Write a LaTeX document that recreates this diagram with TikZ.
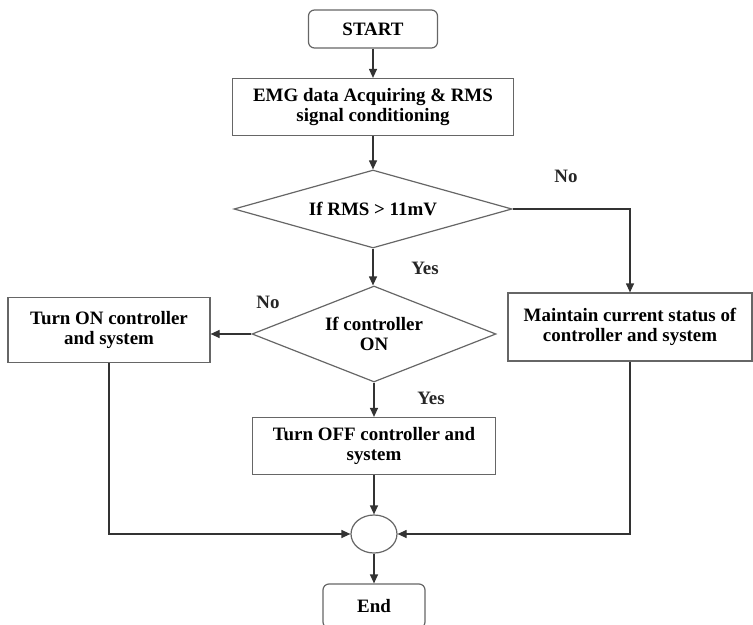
\documentclass[tikz,border=0pt]{standalone}
\usepackage{fontspec}
\setmainfont{Liberation Serif}
\usetikzlibrary{shapes.geometric, arrows.meta, positioning, calc}
\tikzset{
  flowfont/.style={font=\fontsize{19}{20}\selectfont\bfseries},
  terminal/.style={rectangle, draw=black!60, rounded corners=6pt, line width=1.2bp,
                   flowfont, align=center, inner sep=0pt},
  stepbox/.style={rectangle, draw=black!60, line width=1.2bp, flowfont,
                  align=center, inner sep=0pt},
  decision/.style={diamond, draw=black!60, line width=1.2bp, flowfont,
                   align=center, inner sep=0pt, aspect=3},
  merger/.style={ellipse, draw=black!60, line width=1.2bp, inner sep=0pt},
  arrow/.style={-{Triangle[length=9bp, width=8bp]}, draw=black!80, line width=1.2bp},
  label/.style={flowfont, text=black!85, inner sep=1pt},
}
\begin{document}
\begin{tikzpicture}[x=1bp, y=-1bp]
  \useasboundingbox (0,0) rectangle (753,625);

  \node[terminal, minimum width=129bp, minimum height=38bp] (start) at (373,29) {START};
  \node[stepbox, minimum width=281bp, minimum height=57bp] (acquire) at (373,107)
    {EMG data Acquiring \& RMS\\signal conditioning};
  \node[decision, minimum width=278bp, minimum height=78bp] (rmscheck) at (373,209)
    {If RMS > 11mV};
  \node[decision, minimum width=244bp, minimum height=96bp] (ctrlcheck) at (374,334)
    {If controller\\ON};
  \node[stepbox, minimum width=202bp, minimum height=65bp] (turnon) at (109,330)
    {Turn ON controller\\and system};
  \node[stepbox, minimum width=244bp, minimum height=68bp] (maintain) at (630,327)
    {Maintain current status of\\controller and system};
  \node[stepbox, minimum width=243bp, minimum height=57bp] (turnoff) at (374,446)
    {Turn OFF controller and\\system};
  \node[merger, minimum width=46bp, minimum height=38bp] (merge) at (374,534) {};
  \node[terminal, minimum width=102bp, minimum height=44bp] (stop) at (374,606) {End};

  \node[label] (noA) at (566,176) {No};
  \node[label] (yesA) at (425,268) {Yes};
  \node[label] (noB) at (268,302) {No};
  \node[label] (yesB) at (431,398) {Yes};

  \draw[arrow] (start) -- (acquire);
  \draw[arrow] (acquire) -- (rmscheck);
  \draw[arrow] (rmscheck.south) -- (rmscheck.south |- ctrlcheck.north);
  \draw[arrow] (rmscheck.east) -| (maintain.north);
  \draw[arrow] (ctrlcheck.west) -- (ctrlcheck.west -| turnon.east);
  \draw[arrow] (ctrlcheck.south) -- (ctrlcheck.south |- turnoff.north);
  \draw[arrow] (turnoff.south -| merge.north) -- (merge.north);
  \draw[arrow] (turnon.south) |- (merge.west);
  \draw[arrow] (maintain.south) |- (merge.east);
  \draw[arrow] (merge.south) -- (merge.south |- stop.north);
\end{tikzpicture}
\end{document}
